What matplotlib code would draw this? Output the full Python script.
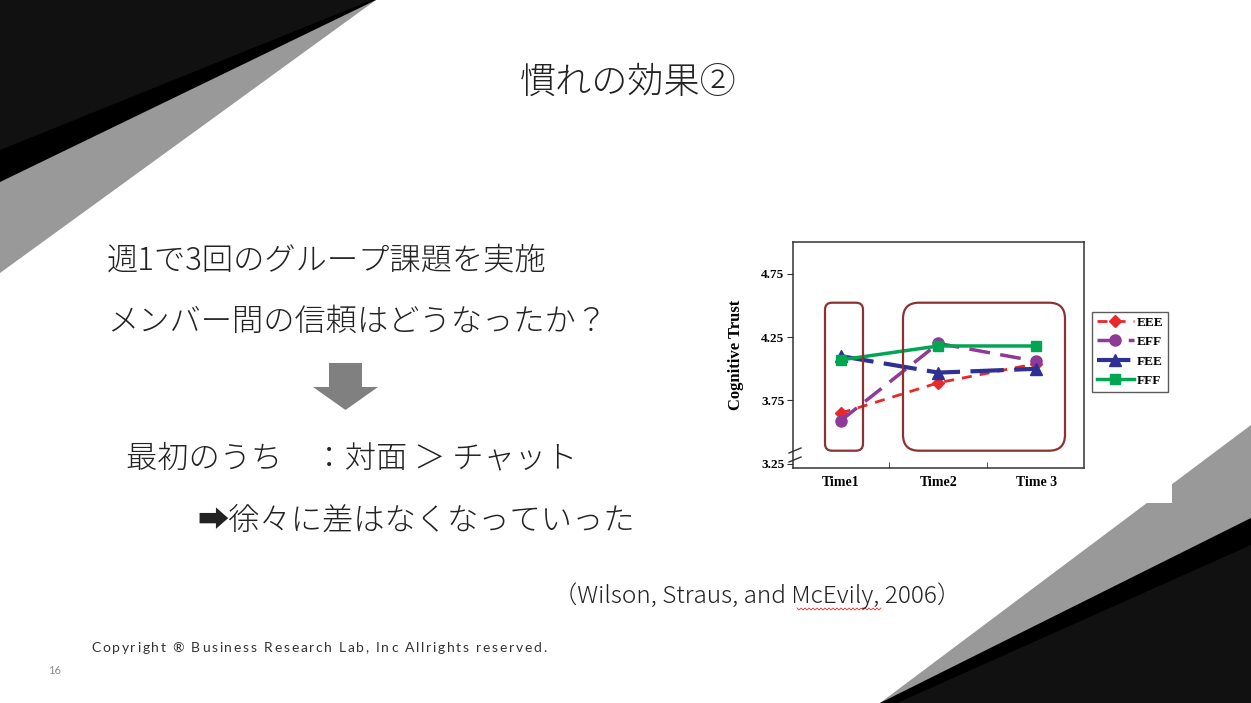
import numpy as np
import matplotlib
matplotlib.use("Agg")
import matplotlib.pyplot as plt
from matplotlib.patches import Polygon, Rectangle, FancyBboxPatch
from matplotlib.font_manager import FontProperties

# chart data (Wilson, Straus, and McEvily, 2006)
times = [1, 2, 3]
time_labels = ["Time1", "Time2", "Time 3"]
eee = [3.65, 3.89, 4.04]
eff = [3.59, 4.20, 4.06]
fee = [4.10, 3.97, 4.00]
fff = [4.07, 4.18, 4.18]
series_names = ["EEE", "EFF", "FEE", "FFF"]
yticks = [3.25, 3.75, 4.25, 4.75]

W, H = 1251, 703
jp = ["Noto Sans CJK JP", "DejaVu Sans"]
serif = "Liberation Serif"

fig = plt.figure(figsize=(W / 100, H / 100), dpi=100)
fig.patch.set_facecolor("white")
renderer = fig.canvas.get_renderer()

# slide background, pixel coords (y down)
bg = fig.add_axes([0, 0, 1, 1], zorder=0)
bg.set_xlim(0, W)
bg.set_ylim(H, 0)
bg.axis("off")
bg.add_patch(Polygon([(0, 0), (376, 0), (0, 273)], color="#999999", lw=0))
bg.add_patch(Polygon([(0, 0), (376, 0), (0, 182)], color="#000000", lw=0))
bg.add_patch(Polygon([(0, 0), (372, 0), (0, 150)], color="#111111", lw=0))
bg.add_patch(Polygon([(880, H), (W, 425), (W, H)], color="#999999", lw=0))
bg.add_patch(Polygon([(880, H), (W, 518), (W, H)], color="#000000", lw=0))
bg.add_patch(Polygon([(897, H), (W, 545), (W, H)], color="#111111", lw=0))
# white background of the pasted chart picture
bg.add_patch(Rectangle((715, 225), 1172 - 715, 503 - 225, color="white", lw=0))

# down arrow
bg.add_patch(Polygon([(329, 363), (362, 363), (362, 387), (378, 387), (345.5, 410),
                      (313, 387), (329, 387)], color="#808080", lw=0))

body = dict(fontsize=22.5, family=jp, va="center", color="#222222", weight="light")
bg.text(628, 83, "慣れの効果②", fontsize=26, family=jp, ha="center", va="center",
        color="#222222", weight="light")
bg.text(107, 261, "週1で3回のグループ課題を実施", **body)
bg.text(107, 322, "メンバー間の信頼はどうなったか？", **body)
bg.text(126, 458, "最初のうち　：対面 ＞ チャット", **body)
bg.text(197, 521, "➡徐々に差はなくなっていった", **body)
bg.text(553, 596, "（Wilson, Straus, and McEvily, 2006）", fontsize=17.5, family=jp,
        va="center", color="#222222", weight="light")
# spell-check squiggle under McEvily
sx = np.arange(797, 882, 2)
bg.plot(sx, 609 + np.where(np.arange(len(sx)) % 2 == 0, -1, 1), color="#E03030", lw=0.6)


def spaced_text(x, y, s, spacing, **kw):
    # draw text with extra letter spacing (pixels)
    prop = FontProperties(family=kw.get("family"), size=kw.get("fontsize"))
    ref_w = renderer.get_text_width_height_descent("x", prop, ismath=False)[0]
    for i, ch in enumerate(s):
        if ch == " ":
            continue
        w = renderer.get_text_width_height_descent(s[:i] + "x", prop, ismath=False)[0] - ref_w
        bg.text(x + w + i * spacing, y, ch, va="center", **kw)


spaced_text(91, 648, "Copyright ® Business Research Lab, Inc Allrights reserved.", 1.75,
            fontsize=10, family="Lato", color="#333333")
bg.text(48, 670, "16", fontsize=8, family="Lato", va="center", color="#8c8c8c")

# the chart
ax = fig.add_axes([792.7 / W, 1 - 467.7 / H, (1084 - 792.7) / W, (467.7 - 242) / H], zorder=1)
ax.set_facecolor("white")
ax.plot(times, eee, color="#E8292B", lw=2, dashes=(3.6, 2.9), marker="D", ms=6, label="EEE")
ax.plot(times, eff, color="#8E3A96", lw=2.5, dashes=(6, 3), marker="o", ms=8, label="EFF")
ax.plot(times, fee, color="#2E3192", lw=3, dashes=(8, 2.5), marker="^", ms=8, label="FEE")
ax.plot(times, fff, color="#00A651", lw=2.5, marker="s", ms=7, label="FFF")
ax.set_xlim(0.51, 3.49)
ax.set_ylim(3.22, 5.0)
ax.set_xticks(times)
ax.set_xticklabels(time_labels, fontsize=10, family=serif, weight="bold")
ax.tick_params(axis="x", which="major", length=0, pad=6)
ax.set_xticks([1.5, 2.5], minor=True)
ax.tick_params(axis="x", which="minor", direction="in", length=4, color="#333333")
ax.set_yticks(yticks)
ax.set_yticklabels(["%.2f" % v for v in yticks], fontsize=9.5, family=serif, weight="bold")
ax.tick_params(axis="y", direction="out", length=4, pad=2, color="#333333")
ax.set_ylabel("Cognitive Trust", fontsize=12, family=serif, weight="bold", labelpad=12)
for s in ax.spines.values():
    s.set_color("#333333")
    s.set_linewidth(1.1)
leg = ax.legend(loc="upper left", bbox_to_anchor=(1092 / W, 1 - 311.7 / H),
                bbox_transform=fig.transFigure, borderaxespad=0, fancybox=False,
                edgecolor="#333333", handlelength=2.8, handletextpad=0.25,
                labelspacing=0.55, borderpad=0.35,
                prop={"family": serif, "weight": "bold", "size": 9.5})
leg.get_frame().set_linewidth(1)

# overlay: highlight boxes and axis break marks
ov = fig.add_axes([0, 0, 1, 1], zorder=2)
ov.set_xlim(0, W)
ov.set_ylim(H, 0)
ov.axis("off")
ov.patch.set_alpha(0)
ov.add_patch(FancyBboxPatch((829, 306.7), 30, 140, boxstyle="round,pad=4,rounding_size=7",
                            fill=False, ec="#8B3232", lw=1.6))
ov.add_patch(FancyBboxPatch((907, 306.7), 154, 140, boxstyle="round,pad=4,rounding_size=16",
                            fill=False, ec="#8B3232", lw=1.6))
ov.plot([789, 801], [453, 448], color="#333333", lw=1)
ov.plot([789, 801], [462, 457], color="#333333", lw=1)

fig.savefig("out.png", dpi=100)
